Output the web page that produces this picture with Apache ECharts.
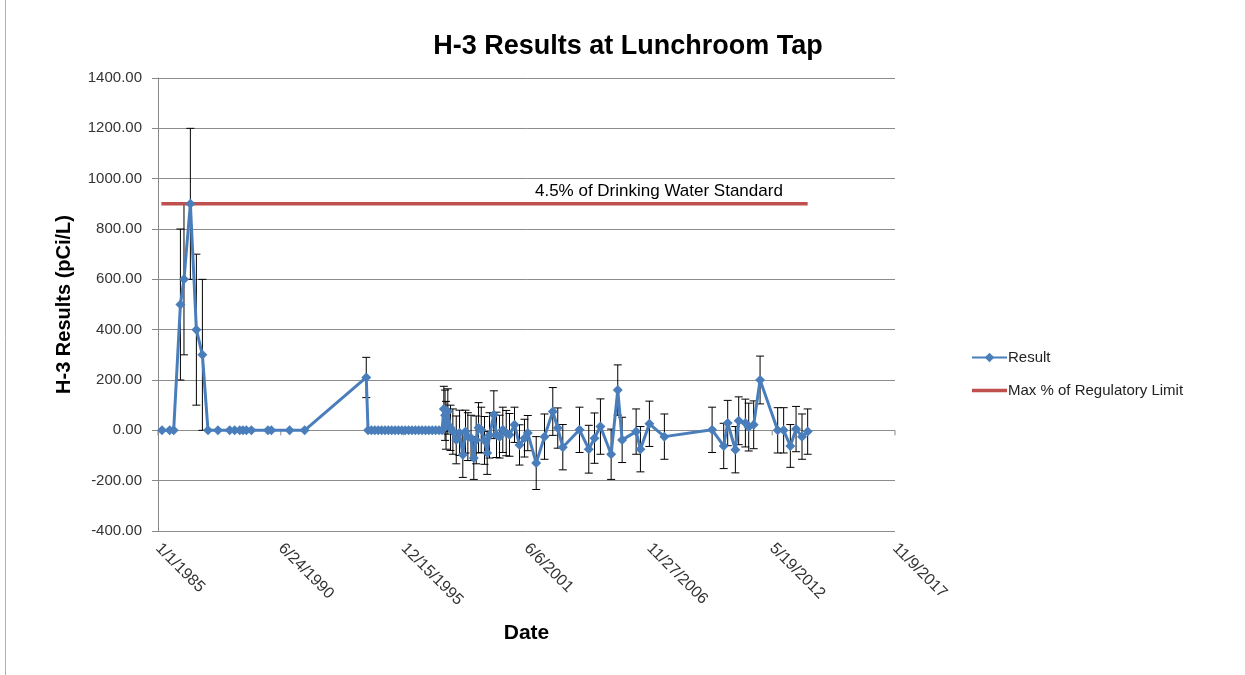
<!DOCTYPE html>
<html>
<head>
<meta charset="utf-8">
<script src="https://cdn.jsdelivr.net/npm/echarts@6/dist/echarts.min.js"></script>
<style>
html,body{margin:0;padding:0;background:#fff;}
#chart{width:1245px;height:675px;}
</style>
</head>
<body>
<div id="chart"></div>
<script>
// Days since 1/1/1985
var sampleDays = [65,190,255,365,423,527,625,723,814,976,1167,1248,1330,1383,1439,1520,1790,1845,2143,2387,3391,
3420,3475,3530,3585,3640,3695,3750,3805,3860,3915,3970,4025,4080,4135,4190,4245,4300,4355,4410,4465,4520,4575,4625,
4654,4674,4690,4719,4763,4801,4856,4910,4963,5007,
5045,5097,5142,5181,5219,5263,5316,5360,5398,5468,
5512,5561,5614,5670,5723,5805,5886,5967,6021,6158,
6293,6428,6509,6591,6863,7014,7107,7204,7378,7486,
7557,7785,7855,8001,8245,9022,9211,9276,9401,9455,
9564,9618,9699,9803,10090,10187,10296,10389,10486,10578];

var resultValues = [0,0,0,500,600,900,400,300,0,0,0,0,0,0,0,0,0,0,0,0,210,
0,0,0,0,0,0,0,0,0,0,0,0,0,0,0,0,0,0,0,0,0,0,0,
85,60,20,75,10,-5,-38,-10,-97,-5,
-25,-30,-110,-38,10,2,-40,-90,-20,62,
-18,-25,2,-11,-18,22,-58,-31,-11,-130,
-25,75,9,-67,2,-75,-31,15,-95,160,
-38,-5,-75,26,-25,2,-62,29,-77,38,
29,13,22,200,0,0,-62,5,-25,-5];

var resultErrors = [0,0,0,300,300,300,300,300,0,0,0,0,0,0,0,0,0,0,0,0,80,
0,0,0,0,0,0,0,0,0,0,0,0,0,0,0,0,0,0,0,0,0,0,0,
90,100,95,90,90,90,95,90,90,85,
95,90,85,95,100,90,95,85,90,95,
90,85,90,90,85,70,80,75,70,105,
90,95,80,90,90,95,100,110,100,100,
90,90,90,90,90,90,90,90,92,95,
95,95,95,95,90,90,85,90,90,90];

var limitDays = [55, 10578];
var limitValues = [900, 900];
var limitLabelDay = 8156;
var limitLabelText = '4.5% of Drinking Water Standard';

var yTickMin = -400, yTickMax = 1400, yTickStep = 200;
var xTickMin = 0, xTickMax = 12000, xTickStep = 2000;
var xTickValues = [0, 2000, 4000, 6000, 8000, 10000, 12000];

function dayToLabel(v){
  var d = new Date(Date.UTC(1985,0,1) + v*86400000);
  return (d.getUTCMonth()+1) + '/' + d.getUTCDate() + '/' + d.getUTCFullYear();
}

var resultData = sampleDays.map(function(d,i){ return [d, resultValues[i]]; });
var errorData = sampleDays.map(function(d,i){ return [d, resultValues[i], resultErrors[i]]; });
var limitData = limitDays.map(function(d,i){ return [d, limitValues[i]]; });
var zeroTickData = xTickValues.map(function(v){ return [v, 0]; });

var FONT = '"Liberation Sans", Arial, sans-serif';
var chart = echarts.init(document.getElementById('chart'));
chart.setOption({
  animation:false,
  backgroundColor:'#fff',
  title:{
    text:'H-3 Results at Lunchroom Tap',
    left:623, top:28, textAlign:'center',
    textStyle:{fontFamily:FONT, fontSize:27, fontWeight:'bold', color:'#000'}
  },
  graphic:[
    {type:'line', shape:{x1:5.5,y1:0,x2:5.5,y2:675}, style:{stroke:'#b0b0b0', lineWidth:1}}
  ],
  legend:{
    orient:'vertical', left:966, top:345,
    itemWidth:35, itemHeight:12, itemGap:18,
    symbolKeepAspect:true,
    textStyle:{fontFamily:FONT, fontSize:15, color:'#222', padding:[0,0,0,-4]},
    data:[
      {name:'Result'},
      {name:'Max % of Regulatory Limit', icon:'path://M0,0L35,0L35,3.5L0,3.5Z'}
    ]
  },
  grid:{left:158, top:78, width:737, height:453, containLabel:false},
  xAxis:{
    type:'value', min:xTickMin, max:xTickMax, interval:xTickStep,
    axisLine:{show:false}, axisTick:{show:false}, splitLine:{show:false},
    axisLabel:{rotate:-45, margin:15, fontFamily:FONT, fontSize:16, color:'#333', formatter:dayToLabel},
    name:'Date', nameLocation:'middle', nameGap:92,
    nameTextStyle:{fontFamily:FONT, fontSize:21, fontWeight:'bold', color:'#000'}
  },
  yAxis:{
    type:'value', min:yTickMin, max:yTickMax, interval:yTickStep,
    axisLine:{show:true, lineStyle:{color:'#888', width:1}},
    axisTick:{show:true, length:6, lineStyle:{color:'#888'}},
    splitLine:{show:true, lineStyle:{color:'#8c8c8c', width:1}},
    axisLabel:{fontFamily:FONT, fontSize:15, color:'#333', margin:16, formatter:function(v){return v.toFixed(2);}},
    name:'H-3 Results (pCi/L)', nameLocation:'middle', nameGap:84, nameRotate:90,
    nameTextStyle:{fontFamily:FONT, fontSize:20, fontWeight:'bold', color:'#000'}
  },
  series:[
    {
      name:'zeroTicks', type:'custom', z:1, silent:true,
      encode:{x:0, y:1},
      data:zeroTickData,
      renderItem:function(params, api){
        var p = api.coord([api.value(0), api.value(1)]);
        return {type:'line', shape:{x1:p[0],y1:p[1],x2:p[0],y2:p[1]+5}, style:{stroke:'#888', lineWidth:1}};
      }
    },
    {
      name:'errors', type:'custom', z:2, silent:true,
      encode:{x:0, y:1},
      data:errorData,
      renderItem:function(params, api){
        var x = api.value(0), y = api.value(1), e = api.value(2);
        if(!e) return null;
        var t = api.coord([x, y+e]), b = api.coord([x, y-e]);
        var w = 4;
        var st = {stroke:'#000', lineWidth:1};
        return {type:'group', children:[
          {type:'line', shape:{x1:t[0],y1:t[1],x2:b[0],y2:b[1]}, style:st},
          {type:'line', shape:{x1:t[0]-w,y1:t[1],x2:t[0]+w,y2:t[1]}, style:st},
          {type:'line', shape:{x1:b[0]-w,y1:b[1],x2:b[0]+w,y2:b[1]}, style:st}
        ]};
      }
    },
    {
      name:'Result', type:'line', z:5,
      data:resultData,
      symbol:'diamond', symbolSize:10,
      itemStyle:{color:'#4A7EBB'},
      lineStyle:{color:'#4A7EBB', width:3}
    },
    {
      name:'Max % of Regulatory Limit', type:'line', z:4,
      data:limitData, symbol:'none',
      itemStyle:{color:'#C0504D'},
      lineStyle:{color:'#C0504D', width:3.5},
      markPoint:{
        symbol:'circle', symbolSize:0, silent:true,
        data:[{coord:[limitLabelDay, limitValues[0]], value:0}],
        label:{show:true, formatter:limitLabelText, offset:[0,-13], fontFamily:FONT, fontSize:17, color:'#000'}
      }
    }
  ]
});
</script>
</body>
</html>
